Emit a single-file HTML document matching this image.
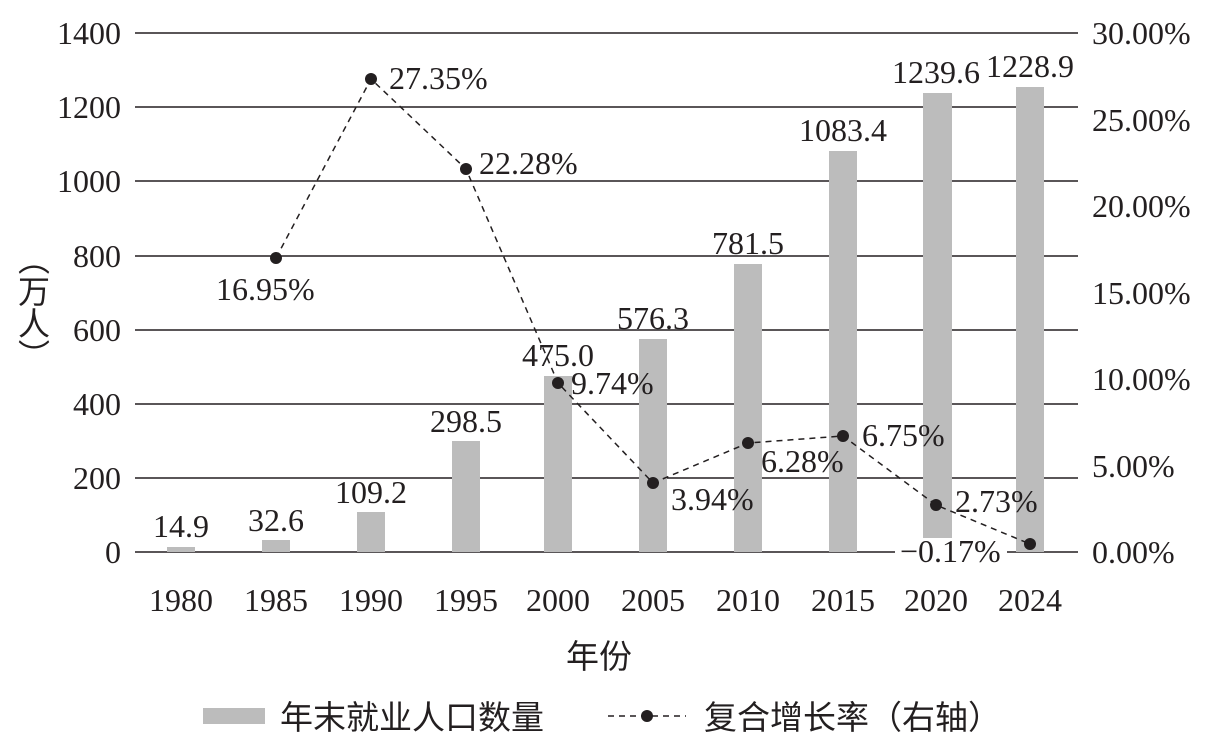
<!DOCTYPE html>
<html><head><meta charset="utf-8"><style>
html,body{margin:0;padding:0;background:#fff;}
svg{display:block;}
text{font-family:"Liberation Serif","Noto Serif CJK SC",serif;font-size:32px;fill:#231f20;}
.cjk{font-family:"Liberation Serif","Noto Sans CJK SC",sans-serif;font-size:33px;}
#vl{position:absolute;left:18px;top:243px;writing-mode:vertical-rl;font-family:"Noto Sans CJK SC",sans-serif;font-size:32px;line-height:32px;color:#231f20;}
</style></head><body>
<div id="vl">（万人）</div>
<svg width="1216" height="747" viewBox="0 0 1216 747" xmlns="http://www.w3.org/2000/svg">
<g stroke="#231f20" stroke-width="1.5">
<line x1="135" y1="33" x2="1078" y2="33"/>
<line x1="135" y1="107" x2="1078" y2="107"/>
<line x1="135" y1="181" x2="1078" y2="181"/>
<line x1="135" y1="256" x2="1078" y2="256"/>
<line x1="135" y1="330" x2="1078" y2="330"/>
<line x1="135" y1="404" x2="1078" y2="404"/>
<line x1="135" y1="478" x2="1078" y2="478"/>
<line x1="135" y1="552" x2="1078" y2="552"/>
</g>
<g fill="#bcbcbc">
<rect x="167" y="547" width="28" height="5"/>
<rect x="262" y="540" width="28" height="12"/>
<rect x="357" y="512" width="28" height="40"/>
<rect x="452" y="441" width="28" height="111"/>
<rect x="544" y="376" width="28" height="176"/>
<rect x="639" y="339" width="28" height="213"/>
<rect x="734" y="264" width="28" height="288"/>
<rect x="829" y="151" width="28" height="401"/>
<rect x="923" y="93" width="29" height="459"/>
<rect x="1016" y="87" width="28" height="465"/>
</g>
<rect x="895" y="538" width="112" height="30" fill="#fff"/>
<polyline points="276,258 371,79 466,169 558,383 653,483 748,443 843,436 936,505 1030,544" fill="none" stroke="#231f20" stroke-width="1.5" stroke-dasharray="6,5"/>
<g fill="#231f20">
<circle cx="276" cy="258" r="6"/><circle cx="371" cy="79" r="6"/><circle cx="466" cy="169" r="6"/><circle cx="558" cy="383" r="6"/><circle cx="653" cy="483" r="6"/><circle cx="748" cy="443" r="6"/><circle cx="843" cy="436" r="6"/><circle cx="936" cy="505" r="6"/><circle cx="1030" cy="544" r="6"/>
</g>
<g text-anchor="end">
<text x="121" y="44">1400</text><text x="121" y="118">1200</text><text x="121" y="192">1000</text><text x="121" y="267">800</text><text x="121" y="341">600</text><text x="121" y="415">400</text><text x="121" y="489">200</text><text x="121" y="563">0</text>
</g>
<g>
<text x="1092" y="44">30.00%</text><text x="1092" y="131">25.00%</text><text x="1092" y="217">20.00%</text><text x="1092" y="304">15.00%</text><text x="1092" y="390">10.00%</text><text x="1092" y="477">5.00%</text><text x="1092" y="563">0.00%</text>
</g>
<g text-anchor="middle">
<text x="181" y="611">1980</text><text x="276" y="611">1985</text><text x="371" y="611">1990</text><text x="466" y="611">1995</text><text x="558" y="611">2000</text><text x="653" y="611">2005</text><text x="748" y="611">2010</text><text x="843" y="611">2015</text><text x="936" y="611">2020</text><text x="1030" y="611">2024</text>
<text x="181" y="537">14.9</text><text x="276" y="531">32.6</text><text x="371" y="503">109.2</text><text x="466" y="432">298.5</text><text x="558" y="366">475.0</text><text x="653" y="329">576.3</text><text x="748" y="254">781.5</text><text x="843" y="141">1083.4</text><text x="936" y="83">1239.6</text><text x="1030" y="77">1228.9</text>
<text x="599" y="668" class="cjk">年份</text>
</g>
<text x="216" y="300">16.95%</text>
<text x="389" y="89">27.35%</text>
<text x="479" y="174">22.28%</text>
<text x="571" y="394">9.74%</text>
<text x="671" y="510">3.94%</text>
<text x="761" y="472">6.28%</text>
<text x="862" y="446">6.75%</text>
<text x="955" y="512">2.73%</text>
<text x="900" y="562">−0.17%</text>
<rect x="203" y="708" width="62" height="16" fill="#bcbcbc"/>
<text x="280" y="729" class="cjk">年末就业人口数量</text>
<line x1="608" y1="716" x2="686" y2="716" stroke="#231f20" stroke-width="1.5" stroke-dasharray="6,5"/>
<circle cx="647" cy="716" r="6" fill="#231f20"/>
<text x="704" y="729" class="cjk">复合增长率（右轴）</text>
</svg>
</body></html>
